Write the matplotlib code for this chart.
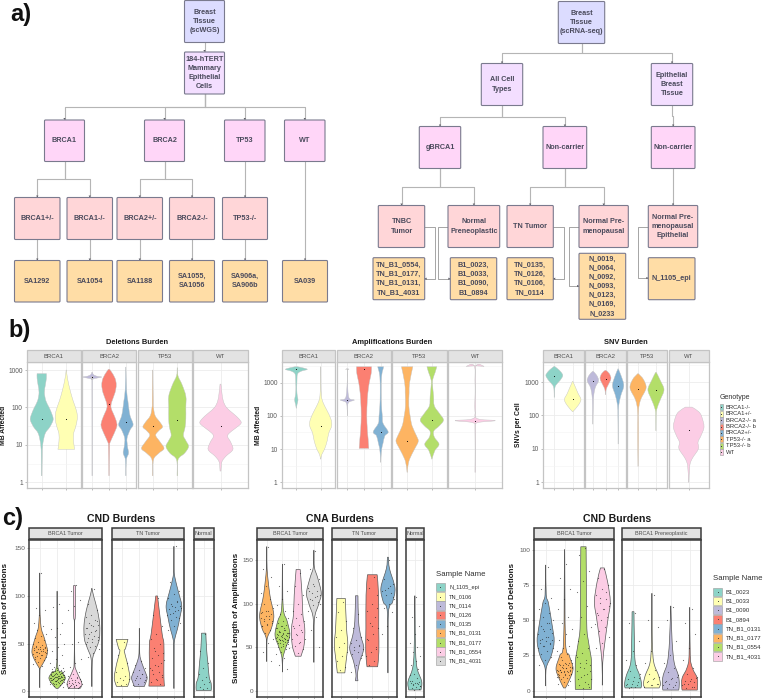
import matplotlib
matplotlib.use('Agg')
import matplotlib.pyplot as plt
import matplotlib.ticker as mticker
import numpy as np
from matplotlib.patches import Rectangle, FancyBboxPatch, PathPatch
from matplotlib.path import Path

plt.rcParams['font.family'] = ['Liberation Sans', 'DejaVu Sans']

W, H = 763, 699

# Colours
teal, yellow, lilac, red, blue, orange, green, pink, grey = (
    '#8DD3C7', '#FFFFB3', '#BEBADA', '#FB8072', '#80B1D3',
    '#FDB462', '#B3DE69', '#FCCDE5', '#D9D9D9')
box_blue, box_purple, box_pink, box_rose, box_orange = (
    '#DCDCFF', '#F3DEFF', '#FFD6F8', '#FFD6D8', '#FFDDA6')

# ______________________________________________________
# Panel a) flow chart boxes: label, left, top, right, bottom, colour
wgs_boxes = {
    'root': ('Breast\nTissue\n(scWGS)', 184.5, 0.5, 224.5, 42.5, box_blue),
    'cells': ('184-hTERT\nMammary\nEpithelial\nCells', 184.5, 52, 224.5, 94, box_purple),
    'brca1': ('BRCA1', 44.5, 120, 84.5, 161.5, box_pink),
    'brca2': ('BRCA2', 144.5, 120, 184.5, 161.5, box_pink),
    'tp53': ('TP53', 224.5, 120, 265, 161.5, box_pink),
    'wt': ('WT', 284.5, 120, 325, 161.5, box_pink),
    'b1het': ('BRCA1+/-', 14.5, 197.5, 60, 239.5, box_rose),
    'b1ko': ('BRCA1-/-', 67, 197.5, 112.5, 239.5, box_rose),
    'b2het': ('BRCA2+/-', 117, 197.5, 162.5, 239.5, box_rose),
    'b2ko': ('BRCA2-/-', 169.5, 197.5, 214.5, 239.5, box_rose),
    'p53ko': ('TP53-/-', 222.5, 197.5, 267.5, 239.5, box_rose),
    's1': ('SA1292', 14.5, 260.5, 60, 302, box_orange),
    's2': ('SA1054', 67, 260.5, 112.5, 302, box_orange),
    's3': ('SA1188', 117, 260.5, 162.5, 302, box_orange),
    's4': ('SA1055,\nSA1056', 169.5, 260.5, 214.5, 302, box_orange),
    's5': ('SA906a,\nSA906b', 222.5, 260.5, 267.5, 302, box_orange),
    's6': ('SA039', 282.5, 260.5, 327.5, 302, box_orange),
}
rna_boxes = {
    'root': ('Breast\nTissue\n(scRNA-seq)', 558.3, 1.5, 604.7, 43.5, box_blue),
    'all': ('All Cell\nTypes', 481.3, 63.5, 522.7, 105.5, box_purple),
    'epi': ('Epithelial\nBreast\nTissue', 651.3, 63.5, 692.7, 105.5, box_purple),
    'g': ('gBRCA1', 419.3, 126.5, 460.7, 168.5, box_pink),
    'nc': ('Non-carrier', 543, 126.5, 586.7, 168.5, box_pink),
    'nc2': ('Non-carrier', 651.3, 126.5, 695, 168.5, box_pink),
    'tnbc': ('TNBC\nTumor', 378.3, 205.5, 424.7, 247.5, box_rose),
    'pre': ('Normal\nPreneoplastic', 448, 205.5, 499.7, 247.5, box_rose),
    'tn': ('TN Tumor', 507, 205.5, 553.3, 247.5, box_rose),
    'npm': ('Normal Pre-\nmenopausal', 579, 205.5, 628.3, 247.5, box_rose),
    'nepi': ('Normal Pre-\nmenopausal\nEpithelial', 648.3, 205.5, 697.7, 247.5, box_rose),
    's1': ('TN_B1_0554,\nTN_B1_0177,\nTN_B1_0131,\nTN_B1_4031', 373, 257.7, 424.7, 299.7, box_orange),
    's2': ('B1_0023,\nB1_0033,\nB1_0090,\nB1_0894', 450.3, 257.7, 496.7, 299.7, box_orange),
    's3': ('TN_0135,\nTN_0126,\nTN_0106,\nTN_0114', 507, 257.7, 553.3, 299.7, box_orange),
    's4': ('N_0019,\nN_0064,\nN_0092,\nN_0093,\nN_0123,\nN_0169,\nN_0233', 579, 253.3, 625.7, 319.3, box_orange),
    's5': ('N_1105_epi', 648.3, 257.7, 695, 299.7, box_orange),
}
# parent, children, height of the horizontal run
wgs_links = [('root', ['cells'], None), ('cells', ['brca1', 'brca2', 'tp53', 'wt'], 107),
             ('brca1', ['b1het', 'b1ko'], 179), ('brca2', ['b2het', 'b2ko'], 179),
             ('tp53', ['p53ko'], None), ('wt', ['s6'], None), ('b1het', ['s1'], None),
             ('b1ko', ['s2'], None), ('b2het', ['s3'], None), ('b2ko', ['s4'], None),
             ('p53ko', ['s5'], None)]
rna_links = [('root', ['all', 'epi'], 53), ('all', ['g', 'nc'], 116.5), ('epi', ['nc2'], None),
             ('g', ['tnbc', 'pre'], 187), ('nc', ['tn', 'npm'], 187), ('nc2', ['nepi'], None)]
# side links: source box, target box, x of the vertical run, y of the arrow
rna_side_links = [('tnbc', 's1', 435, 278.7), ('pre', 's2', 437.7, 278.7),
                  ('tn', 's3', 563.7, 278.7), ('npm', 's4', 568.7, 286),
                  ('nepi', 's5', 638.3, 278)]

# ______________________________________________________
# Panel b) violin outlines: (value, half width)
del_b1_ko = [(800, .19), (600, .19), (400, .15), (250, .11), (150, .17), (100, .3), (60, .44), (45, .46), (30, .33), (20, .14), (10, .04), (5, .02), (1.5, .01)]
del_b1_het = [(1000, .005), (600, .05), (300, .15), (150, .28), (80, .42), (50, .45), (30, .38), (20, .3), (12, .3), (7.6, .34)]
del_b2_ko_a = [(870, .02), (750, .08), (680, .3), (650, .58), (610, .3), (560, .04), (400, .015), (1.5, .01)]
del_b2_ko_b = [(1050, .03), (900, .14), (600, .36), (400, .43), (250, .36), (140, .16), (100, .12), (70, .25), (45, .42), (32, .47), (20, .3), (12, .08), (9, .03), (1.5, .01)]
del_b2_het = [(1200, .005), (300, .04), (150, .12), (100, .17), (60, .25), (35, .43), (25, .25), (15, .07), (9, .1), (6, .16), (4, .03), (1.5, .01)]
del_p53_a = [(1000, .005), (150, .02), (100, .03), (60, .1), (40, .3), (30, .4), (24, .25), (18, .12), (12, .3), (8, .46), (6, .25), (4, .03), (1.5, .01)]
del_p53_b = [(1150, .005), (700, .03), (400, .2), (200, .35), (100, .35), (50, .35), (30, .32), (18, .25), (13, .35), (9, .46), (6, .3), (4, .03), (1.5, .01)]
del_wt = [(420, .01), (250, .03), (150, .06), (100, .13), (70, .27), (50, .4), (38, .45), (28, .33), (20, .18), (16, .16), (12, .22), (7.5, .27), (5, .12), (3.5, .03), (2, .01)]
del_medians = [[50, 50], [650, 120, 40], [31, 45], [32]]

amp_b1_ko = [(3000, .05), (2800, .25), (2500, .45), (2200, .2), (1800, .05), (1000, .025), (600, .02), (400, .04), (300, .07), (220, .03), (170, .005)]
amp_b1_het = [(3000, .005), (1000, .01), (400, .03), (250, .1), (150, .25), (80, .42), (50, .45), (30, .33), (18, .27), (10, .16), (7, .05), (5, .005)]
amp_b2_ko_a = [(2600, .005), (2500, .1), (2400, .005), (1000, .01), (350, .1), (300, .42), (260, .1), (200, .02), (100, .005)]
amp_b2_ko_b = [(3000, .45), (2000, .44), (1200, .35), (700, .27), (300, .2), (100, .17), (40, .2), (20, .25), (10.5, .29)]
amp_b2_het = [(3000, .18), (2500, .14), (1500, .05), (500, .03), (200, .05), (100, .1), (60, .14), (33, .45), (25, .25), (15, .14), (10, .06), (6, .02), (4, .005)]
amp_p53_a = [(3000, .23), (1000, .1), (500, .08), (200, .07), (100, .12), (50, .2), (25, .38), (17, .45), (10, .3), (5, .1), (3, .03), (2, .005)]
amp_p53_b = [(3000, .2), (2000, .13), (1200, .03), (800, .03), (400, .07), (200, .1), (120, .3), (75, .47), (50, .3), (35, .08), (23, .1), (14, .29), (9, .12), (5, .005)]
amp_wt = [(3200, .01), (3050, .2), (2900, .01), (200, .01), (85, .03), (72, .45), (62, .05), (40, .005), (2, .005)]
amp_medians = [[2500, 50], [300, 2500, 33], [17, 75], [70]]

snv_b1_ko = [(2950, .01), (2500, .18), (2000, .36), (1550, .46), (1100, .3), (800, .08), (600, .02), (350, .01)]
snv_b1_het = [(1050, .01), (700, .15), (450, .3), (300, .45), (200, .3), (130, .01)]
snv_b2_ko_a = [(2090, .02), (1600, .3), (1100, .45), (700, .2), (400, .07), (200, .03), (55, .005)]
snv_b2_ko_b = [(2240, .03), (1800, .3), (1260, .43), (800, .2), (600, .05), (420, .01)]
snv_b2_het = [(2500, .01), (1500, .25), (780, .45), (400, .22), (200, .05), (100, .02), (40, .01), (14, .005)]
snv_p53_a = [(1780, .02), (1200, .3), (660, .45), (300, .15), (150, .03), (60, .02), (20, .02), (3, .005)]
snv_p53_b = [(1950, .02), (1100, .25), (590, .45), (300, .25), (150, .04), (80, .01), (35, .005)]
snv_wt = [(178, .1), (130, .3), (93, .39), (46, .46), (25, .37), (16, .28), (10, .29), (5, .1), (3, .03), (1, .005)]
snv_medians = [[1500, 320], [1050, 1250, 750], [600, 560], [36]]

# faint jittered cells seen around some violins
haze_del_b2_het = [110, 130, 150, 170, 190, 210, 240, 270, 300, 340, 90, 80, 70]
haze_del_p53_a = [60, 70, 80, 90, 100, 110, 120, 130, 140, 150, 150, 150, 170, 190]
haze_amp_b2_het = [100, 100, 100, 120, 150, 180, 220, 280, 350, 450, 600, 90, 100]
haze_amp_p53_a = [200, 200, 200, 200, 160, 250, 300, 120, 90, 70, 400]
haze_amp_p53_b = [520, 520, 520, 430, 430, 430, 430, 300, 250, 200, 160, 130, 350, 600]
haze_snv_p53_a = [30, 28, 25, 22, 20, 18, 16, 14, 12, 10, 8, 6, 40, 50, 70, 100, 150]
haze_snv_p53_b = [300, 270, 240, 210, 190, 170, 150, 130, 1200, 1400, 1600]

# ______________________________________________________
# Panel c) outlines
cnd_0131 = [(124, .005), (90, .01), (75, .04), (65, .1), (55, .28), (42, .45), (33, .3), (26, .08), (22, .01), (4, .005)]
cnd_0177 = [(105, .005), (30, .02), (20, .3), (14, .47), (8, .3), (3, .05)]
cnd_0554 = [(111, .05), (80, .05), (70, .005), (30, .02), (22, .1), (14, .3), (8, .43), (4, .36), (3, .3)]
cnd_4031 = [(108, .005), (100, .1), (85, .32), (70, .45), (55, .43), (45, .25), (35, .05), (20, .01), (5, .005)]
cnd_0106 = [(54.5, .34), (45, .2), (42, .13), (30, .3), (15, .45), (7, .36), (5, .3)]
cnd_0114 = [(66, .005), (40, .02), (30, .14), (20, .35), (14, .45), (8, .35), (5, .28)]
cnd_0126 = [(100, .05), (85, .15), (60, .32), (50, .42), (30, .42), (15, .42), (5.5, .45)]
cnd_0135 = [(152, .005), (130, .005), (120, .05), (105, .25), (90, .45), (78, .35), (65, .2), (55, .05), (45, .01), (3, .005)]
cnd_1105 = [(61, .13), (45, .17), (30, .25), (15, .33), (8, .45), (1, .45)]

cna_0131 = [(165, .005), (140, .02), (110, .2), (87, .45), (72, .3), (59, .02), (34, .005)]
cna_0177 = [(145, .005), (95, .05), (80, .3), (64, .47), (49, .2), (38, .03), (22, .005)]
cna_0554 = [(139, .13), (110, .25), (87, .3), (72, .42), (53, .38), (40, .18)]
cna_4031 = [(161, .005), (142, .03), (129, .25), (112, .47), (99, .3), (81, .03), (33, .005)]
cna_0106 = [(106, .27), (72, .35), (53, .43), (34, .32), (21, .24)]
cna_0114 = [(109, .08), (80, .12), (64, .25), (49, .45), (34, .2), (20, .05), (12, .08)]
cna_0126 = [(133, .31), (110, .4), (72, .41), (45, .42), (28, .34)]
cna_0135 = [(153, .03), (140, .1), (118, .45), (102, .3), (89, .03), (21, .005)]
cna_1105 = [(109, .005), (80, .02), (45, .05), (26, .15), (11, .45), (1.5, .4)]

pre_0131 = [(89, .005), (68, .03), (62, .15), (46, .35), (35, .45), (25, .3), (16, .03), (3.5, .005)]
pre_0177 = [(100, .005), (35, .05), (25, .25), (16, .45), (9, .3), (2, .05)]
pre_0554 = [(102, .14), (68, .16), (44, .18), (32, .3), (20, .43), (1, .43)]
pre_4031 = [(87, .1), (77, .28), (63, .42), (51, .3), (35, .14), (20, .02), (4, .005)]
pre_0023 = [(56, .05), (37, .07), (20, .12), (11, .35), (5, .45), (2, .42)]
pre_0033 = [(69, .005), (35, .02), (20, .1), (11, .35), (5, .45), (2, .38)]
pre_0090 = [(60, .005), (35, .07), (20, .18), (11, .4), (5, .45), (.5, .42)]
pre_0894 = [(59, .005), (25, .03), (16, .15), (9, .4), (3, .42), (.5, .4)]

# Cell values in panel c
pts_cnd_0131 = [124, 87, 85, 80, 72, 68, 64, 60, 58, 56, 54, 52, 50, 49, 48, 47, 46, 45, 44, 44, 43, 42, 41, 41, 40, 39, 38, 37, 36, 35, 34, 33, 31, 29, 27, 46, 45, 44, 43, 42, 41, 40, 38, 36]
pts_cnd_0177 = [92, 88, 72, 66, 65, 60, 57, 50, 47, 42, 38, 34, 30, 28, 26, 25, 24, 23, 22, 21, 21, 20, 20, 19, 19, 18, 18, 17, 17, 16, 16, 15, 15, 14, 14, 13, 13, 12, 12, 11, 11, 10, 10, 9, 9, 8, 8, 7, 6, 5, 22, 20, 19, 18, 17, 16, 16, 15, 15, 14, 14, 14, 13, 13, 12, 12, 11, 10, 9, 8, 20, 18, 17, 16, 15, 15, 14, 13, 12, 11]
pts_cnd_0554 = [111, 105, 96, 90, 85, 52, 50, 34, 30, 26, 20, 18, 16, 15, 14, 13, 12, 11, 10, 9, 8, 7, 6, 5, 5, 4, 14, 12, 11, 10, 9, 9, 8, 8, 7, 7, 6, 6, 5, 4]
pts_cnd_4031 = [107, 92, 85, 80, 78, 75, 72, 70, 68, 66, 64, 62, 60, 58, 56, 54, 52, 50, 48, 46, 44, 40, 36, 74, 70, 66, 63, 60, 57, 55, 52]
pts_cnd_0106 = [52, 38, 30, 25, 20, 16, 14, 13, 12, 10, 8, 7]
pts_cnd_0114 = [32, 28, 25, 22, 20, 18, 16, 15, 14, 12, 10, 8, 7, 18, 14, 12]
pts_cnd_0126 = [98, 80, 68, 60, 55, 50, 45, 40, 38, 35, 30, 28, 25, 20, 18, 15, 12, 10, 8, 42, 33, 27, 22, 17, 13]
pts_cnd_0135 = [152, 115, 105, 102, 98, 95, 92, 90, 88, 86, 85, 82, 80, 78, 75, 72, 68, 64, 94, 90, 87, 84, 81, 77]
pts_cnd_1105 = [60, 42, 30, 25, 18, 15, 12, 10, 8, 5, 3, 2]

pts_cna_0131 = [165, 140, 130, 120, 112, 105, 100, 95, 92, 90, 88, 86, 84, 82, 80, 78, 76, 74, 70, 66, 60, 55, 45, 35, 92, 89, 86, 83, 80, 77, 74]
pts_cna_0177 = [145, 120, 115, 105, 98, 92, 88, 84, 80, 78, 76, 74, 72, 70, 68, 67, 66, 65, 64, 63, 62, 61, 60, 59, 58, 57, 56, 55, 54, 52, 50, 48, 45, 42, 38, 30, 25, 75, 72, 70, 68, 66, 65, 64, 63, 62, 61, 60, 59, 58, 57, 55, 53, 51, 49, 72, 69, 66, 64, 62, 60, 58, 56, 54]
pts_cna_0554 = [135, 120, 110, 100, 92, 88, 84, 80, 76, 72, 68, 64, 60, 56, 52, 48, 44, 75, 70, 65, 60, 55]
pts_cna_4031 = [160, 140, 128, 122, 118, 115, 112, 110, 108, 105, 102, 98, 92, 85, 70, 50, 120, 114, 109, 104, 100]
pts_cna_0106 = [102, 90, 80, 70, 62, 55, 50, 45, 40, 35, 28, 24]
pts_cna_0114 = [88, 72, 62, 58, 55, 52, 50, 48, 45, 42, 38, 30, 22, 53, 47, 41]
pts_cna_0126 = [130, 118, 110, 100, 92, 85, 78, 72, 65, 58, 50, 45, 40, 35, 30, 95, 75, 60, 48]
pts_cna_0135 = [150, 128, 122, 118, 115, 112, 110, 105, 100, 95, 90, 75, 65, 120, 116, 108]
pts_cna_1105 = [108, 85, 75, 65, 55, 50, 45, 40, 35, 30, 25, 20, 18, 15, 12, 11, 10, 9, 8, 7, 6, 5, 4, 3, 2, 12, 10, 8, 6]

pts_pre_0131 = [88, 72, 66, 62, 58, 55, 52, 50, 48, 46, 44, 42, 40, 38, 37, 36, 35, 34, 33, 32, 30, 28, 26, 24, 22, 18, 48, 44, 41, 38, 36, 34, 32, 30]
pts_pre_0177 = [90, 80, 72, 65, 58, 52, 48, 44, 40, 36, 32, 30, 28, 26, 24, 22, 20, 19, 18, 17, 16, 16, 15, 15, 14, 14, 13, 13, 12, 12, 11, 11, 10, 10, 9, 8, 7, 6, 5, 4, 22, 20, 19, 18, 17, 16, 15, 14, 13, 12, 11, 10, 20, 18, 17, 16, 15, 14, 13, 12]
pts_pre_0554 = [101, 96, 85, 78, 70, 60, 52, 45, 40, 35, 30, 27, 25, 22, 20, 18, 16, 14, 12, 10, 8, 6, 4, 3, 2, 24, 20, 17, 14, 11, 8, 5]
pts_pre_4031 = [86, 80, 75, 72, 68, 65, 62, 60, 58, 55, 52, 50, 47, 45, 42, 38, 34, 30, 70, 66, 62, 58, 54]
pts_pre_0023 = [55, 48, 35, 28, 22, 18, 14, 12, 10, 8, 6, 5, 4, 3, 2, 9, 7, 5, 4, 3]
pts_pre_0033 = [68, 50, 45, 28, 20, 15, 12, 10, 8, 6, 5, 4, 3, 9, 7, 5, 4]
pts_pre_0090 = [59, 50, 35, 25, 20, 16, 13, 11, 9, 7, 6, 5, 4, 3, 2, 10, 8, 6, 4]
pts_pre_0894 = [58, 48, 40, 30, 22, 16, 12, 10, 8, 7, 6, 5, 4, 3, 2, 9, 7, 5, 3]

genotype_names = ['BRCA1-/-', 'BRCA1+/-', 'BRCA2-/- a', 'BRCA2-/- b', 'BRCA2+/-', 'TP53-/- a', 'TP53-/- b', 'WT']
genotype_colors = [teal, yellow, lilac, red, blue, orange, green, pink]
sample_names_1 = ['N_1105_epi', 'TN_0106', 'TN_0114', 'TN_0126', 'TN_0135', 'TN_B1_0131', 'TN_B1_0177', 'TN_B1_0554', 'TN_B1_4031']
sample_colors_1 = [teal, yellow, lilac, red, blue, orange, green, pink, grey]
sample_names_2 = ['B1_0023', 'B1_0033', 'B1_0090', 'B1_0894', 'TN_B1_0131', 'TN_B1_0177', 'TN_B1_0554', 'TN_B1_4031']
sample_colors_2 = [teal, yellow, lilac, red, blue, orange, green, pink]

facets_b = ['BRCA1', 'BRCA2', 'TP53', 'WT']
log_ticks = [1, 10, 100, 1000]

# ______________________________________________________
fig = plt.figure(figsize=(W / 100, H / 100), dpi=100)
canvas = fig.add_axes([0, 0, 1, 1], zorder=5)
canvas.set_xlim(0, W)
canvas.set_ylim(H, 0)
canvas.axis('off')
canvas.patch.set_alpha(0)


def px_axes(left, top, right, bottom):
    return fig.add_axes([left / W, 1 - bottom / H, (right - left) / W, (bottom - top) / H])


def arrow(x0, y0, x1, y1):
    canvas.annotate('', xy=(x1, y1), xytext=(x0, y0),
                    arrowprops=dict(arrowstyle='-|>,head_width=0.08,head_length=0.14', color='#55555f',
                                    lw=0, shrinkA=0, shrinkB=0))


def draw_tree(boxes, links):
    def center(b):
        return (b[1] + b[3]) / 2
    for parent, children, bus in links:
        p = boxes[parent]
        px = center(p)
        for name in children:
            c = boxes[name]
            cx = center(c)
            mid = bus if bus is not None else (p[4] + c[2]) / 2
            canvas.plot([px, px, cx, cx], [p[4], mid, mid, c[2]], color='#b5b5b5', lw=0.8)
            arrow(cx, c[2] - 5, cx, c[2])
    for label, l, t, r, b, col in boxes.values():
        canvas.add_patch(FancyBboxPatch((l + 0.5, t + 0.5), r - l - 1, b - t - 1,
                                        boxstyle='round,pad=0.5,rounding_size=1',
                                        fc=col, ec='#7a7a8e', lw=0.8, zorder=3))
        canvas.text((l + r) / 2, (t + b) / 2, label, ha='center', va='center', fontsize=5.2, fontweight='bold',
                    color='#4a4a5c', linespacing=1.42, zorder=4)


def strip(left, right, top, bottom, label, edge, fs, lw):
    canvas.add_patch(Rectangle((left, top), right - left, bottom - top, fc='#E3E3E3', ec=edge, lw=lw))
    canvas.text((left + right) / 2, (top + bottom) / 2, label, ha='center', va='center', fontsize=fs,
                color='#4d4d4d')


def style_panel(ax, edge, lw, tick_fs):
    for s in ax.spines.values():
        s.set_color(edge)
        s.set_linewidth(lw)
    ax.set_axisbelow(True)
    ax.tick_params(axis='both', labelsize=tick_fs, labelcolor='#5a5a5a', color='#8a8a8a', length=1.5, width=0.4, pad=1.5)
    ax.grid(True, which='major', color='#ECECEC', lw=0.6)
    ax.set_xticklabels([])


def smooth_side(xs, ys):
    # Bezier segments through the outline knots
    pts = np.column_stack([xs, ys])
    prev = np.vstack([pts[0], pts[:-1]])
    nxt = np.vstack([pts[1:], pts[-1]])
    tang = (nxt - prev) / 6
    verts = []
    for i in range(len(pts) - 1):
        verts += [pts[i] + tang[i], pts[i + 1] - tang[i + 1], pts[i + 1]]
    return verts


def draw_violin(ax, pos, outline, color, edge, lw, log):
    ys = np.array([p[0] for p in outline], dtype=float)
    hw = np.array([p[1] for p in outline])
    ty = np.log10(ys) if log else ys
    left = smooth_side(pos - hw, ty)
    right = smooth_side(pos + hw[::-1], ty[::-1])
    verts = [(pos - hw[0], ty[0])] + left + [(pos + hw[-1], ty[-1])] + right + [(pos - hw[0], ty[0])]
    codes = [Path.MOVETO] + [Path.CURVE4] * len(left) + [Path.LINETO] + [Path.CURVE4] * len(right) + [Path.CLOSEPOLY]
    verts = np.array(verts)
    if log:
        verts[:, 1] = 10 ** verts[:, 1]
    ax.add_patch(PathPatch(Path(verts, codes), fc=color, ec=edge, lw=lw, zorder=3))


def jitter_points(ax, pos, values, spread, **kw):
    xs = [pos + (((i + 1) * 0.618034) % 1 - 0.5) * spread for i in range(len(values))]
    ax.scatter(xs, values, linewidths=0, zorder=4, **kw)


def log_group(boundaries, top_px, bot_px, ylim, violins, colors, medians, haze):
    k = 0
    for i, (left, right) in enumerate(boundaries):
        ax = px_axes(left, top_px, right, bot_px)
        n = len(violins[i])
        ax.set_yscale('log')
        ax.set_ylim(*ylim)
        ax.set_xlim(0.4, n + 0.6)
        ax.set_xticks(range(1, n + 1))
        ax.set_yticks(log_ticks)
        ax.yaxis.set_major_formatter(mticker.FuncFormatter(lambda v, _: f'{v:g}'))
        ax.yaxis.set_minor_locator(mticker.FixedLocator([3.16, 31.6, 316, 3160]))
        ax.yaxis.set_minor_formatter(mticker.NullFormatter())
        ax.tick_params(axis='y', which='minor', length=0)
        style_panel(ax, '#C4C4C4', 0.9, 4.8)
        ax.grid(True, which='minor', axis='y', color='#F4F4F4', lw=0.4)
        if i > 0:
            ax.tick_params(axis='y', which='both', left=False, labelleft=False)
        for j, outline in enumerate(violins[i]):
            draw_violin(ax, j + 1, outline, colors[k], '#c2c2c2', 0.3, True)
            if k in haze:
                jitter_points(ax, j + 1, haze[k], 0.4, s=3, color=colors[k], alpha=0.35, marker='+')
            ax.scatter([j + 1], [medians[i][j]], s=0.6, color='black', linewidths=0, zorder=5)
            k += 1
        strip(left, right, 350, 362, facets_b[i], '#C4C4C4', 4.3, 0.9)


def linear_group(facets, ylim, yticks):
    for i, (left, right, label, items) in enumerate(facets):
        ax = px_axes(left, 539.7, right, 696.7)
        n = len(items)
        ax.set_ylim(*ylim)
        ax.set_xlim(0.4, n + 0.6)
        ax.set_xticks(range(1, n + 1))
        ax.set_yticks(yticks)
        style_panel(ax, '#3a3a3a', 1.1, 4.6)
        if i > 0:
            ax.tick_params(axis='y', left=False, labelleft=False)
        for j, (outline, pts, color) in enumerate(items):
            draw_violin(ax, j + 1, outline, color, '#5a5a5a', 0.5, False)
            spread = 0.85 if n > 1 else 0.75
            jitter_points(ax, j + 1, pts, spread, s=0.7, color='#222222', alpha=0.65)
        strip(left, right, 528, 539, label, '#3a3a3a', 3.9, 1.1)


def legend_block(title, tx, ty, names, colors, kx0, kx1, ky, step, lx, fs, title_fs, keyh, point_color):
    canvas.text(tx, ty, title, fontsize=title_fs, ha='left', va='center', color='#303030')
    for i, (nm, col) in enumerate(zip(names, colors)):
        y = ky + i * step
        canvas.add_patch(Rectangle((kx0, y - keyh / 2), kx1 - kx0, keyh, fc=col, ec='#9a9a9a', lw=0.4))
        canvas.scatter([(kx0 + kx1) / 2], [y], s=0.5, color=point_color, linewidths=0, zorder=6)
        canvas.text(lx, y, nm, fontsize=fs, ha='left', va='center', color='#303030')


# ______________________________________________________
# Panel a
draw_tree(wgs_boxes, wgs_links)
draw_tree(rna_boxes, rna_links)
for src, dst, vx, ay in rna_side_links:
    s, d = rna_boxes[src], rna_boxes[dst]
    if vx > s[3]:
        sx, ex = s[3], d[3]
    else:
        sx, ex = s[1], d[1]
    sy = (s[2] + s[4]) / 2
    canvas.plot([sx, vx, vx, ex], [sy, sy, ay, ay], color='#a5a5a5', lw=0.7)
    arrow(ex + (4 if vx > ex else -4), ay, ex, ay)

# Panel b
log_group([(27, 81), (82, 136), (138, 192), (193, 248)], 362, 488, (10 ** -0.152, 10 ** 3.214),
          [[del_b1_ko, del_b1_het], [del_b2_ko_a, del_b2_ko_b, del_b2_het], [del_p53_a, del_p53_b], [del_wt]],
          genotype_colors, del_medians, {4: haze_del_b2_het, 5: haze_del_p53_a})
log_group([(281.7, 335.3), (337.3, 390.7), (392.3, 446.7), (448.3, 502)], 362, 488, (10 ** -0.17, 10 ** 3.62),
          [[amp_b1_ko, amp_b1_het], [amp_b2_ko_a, amp_b2_ko_b, amp_b2_het], [amp_p53_a, amp_p53_b], [amp_wt]],
          genotype_colors, amp_medians, {4: haze_amp_b2_het, 5: haze_amp_p53_a, 6: haze_amp_p53_b})
log_group([(543.3, 583.7), (585.3, 625.7), (627.3, 666.7), (668.7, 708.7)], 362, 488, (10 ** -0.17, 10 ** 3.6),
          [[snv_b1_ko, snv_b1_het], [snv_b2_ko_a, snv_b2_ko_b, snv_b2_het], [snv_p53_a, snv_p53_b], [snv_wt]],
          genotype_colors, snv_medians, {5: haze_snv_p53_a, 6: haze_snv_p53_b})

# Panel c
linear_group([(29.3, 102.3, 'BRCA1 Tumor', [(cnd_0131, pts_cnd_0131, orange), (cnd_0177, pts_cnd_0177, green), (cnd_0554, pts_cnd_0554, pink), (cnd_4031, pts_cnd_4031, grey)]),
              (111.7, 184.3, 'TN Tumor', [(cnd_0106, pts_cnd_0106, yellow), (cnd_0114, pts_cnd_0114, lilac), (cnd_0126, pts_cnd_0126, red), (cnd_0135, pts_cnd_0135, blue)]),
              (193.7, 213.7, 'Normal', [(cnd_1105, pts_cnd_1105, teal)])],
             (-5.6, 159), [0, 50, 100, 150])
linear_group([(257.3, 323.3, 'BRCA1 Tumor', [(cna_0131, pts_cna_0131, orange), (cna_0177, pts_cna_0177, green), (cna_0554, pts_cna_0554, pink), (cna_4031, pts_cna_4031, grey)]),
              (331.7, 397.3, 'TN Tumor', [(cna_0106, pts_cna_0106, yellow), (cna_0114, pts_cna_0114, lilac), (cna_0126, pts_cna_0126, red), (cna_0135, pts_cna_0135, blue)]),
              (405.7, 424, 'Normal', [(cna_1105, pts_cna_1105, teal)])],
             (-6.2, 173), [0, 50, 100, 150])
linear_group([(534.3, 613.7, 'BRCA1 Tumor', [(pre_0131, pts_pre_0131, blue), (pre_0177, pts_pre_0177, orange), (pre_0554, pts_pre_0554, green), (pre_4031, pts_pre_4031, pink)]),
              (621.7, 701, 'BRCA1 Preneoplastic', [(pre_0023, pts_pre_0023, teal), (pre_0033, pts_pre_0033, yellow), (pre_0090, pts_pre_0090, lilac), (pre_0894, pts_pre_0894, red)])],
             (-4.2, 107), [0, 25, 50, 75, 100])

# Titles, axis labels
for x, y, txt, fs in [(136.7, 342, 'Deletions Burden', 5.4), (391.7, 342, 'Amplifications Burden', 5.4),
                      (626.3, 342, 'SNV Burden', 5.4), (121, 519, 'CND Burdens', 7.6),
                      (340, 519, 'CNA Burdens', 7.6), (617.3, 519, 'CND Burdens', 7.6)]:
    canvas.text(x, y, txt, ha='center', va='center', fontsize=fs, fontweight='bold', color='#1a1a1a')
for x, y, txt, fs in [(4, 425, 'MB Affected', 4.9), (258, 425, 'MB Affected', 4.9), (519, 425, 'SNVs per Cell', 4.9),
                      (6, 618, 'Summed Length of Deletions', 5.8), (237, 618, 'Summed Length of Amplifications', 5.8),
                      (513, 618, 'Summed Length of Deletions', 5.8)]:
    canvas.text(x, y, txt, ha='center', va='center', rotation=90, fontsize=fs, fontweight='bold', color='#1a1a1a')
for x, y, txt in [(21, 15, 'a)'), (20, 331, 'b)'), (13, 519, 'c)')]:
    canvas.text(x, y, txt, ha='center', va='center', fontsize=17, fontweight='bold', color='#111111')

# Legends
legend_block('Genotype', 719.5, 397.7, genotype_names, genotype_colors, 719.5, 722.5, 407.3, 6.4, 725.7, 4.2, 5, 6, '#333333')
legend_block('Sample Name', 435.7, 575, sample_names_1, sample_colors_1, 436, 444.7, 587.3, 9.2, 449, 4.1, 5.6, 8.4, '#444444')
legend_block('Sample Name', 712.7, 579, sample_names_2, sample_colors_2, 713.3, 722, 591.7, 9.24, 726, 4.3, 5.6, 8.4, '#444444')

fig.savefig('out.png', dpi=100)
